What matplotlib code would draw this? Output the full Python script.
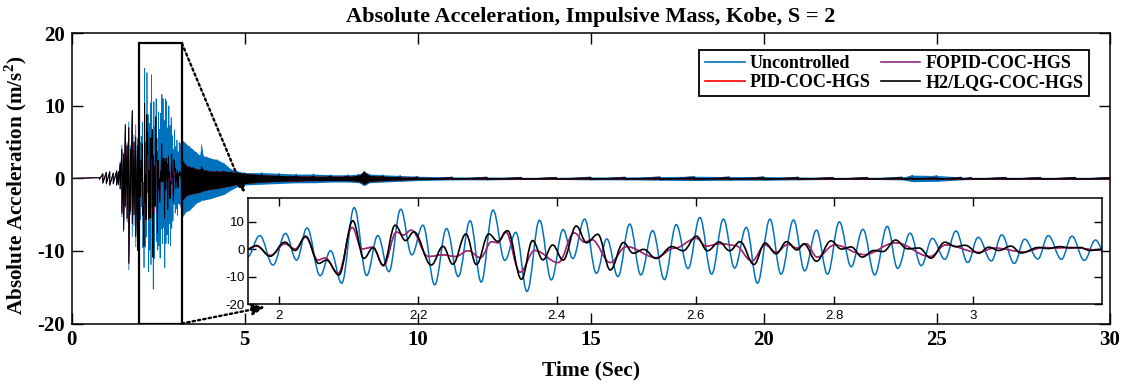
import numpy as np
import matplotlib
matplotlib.use("Agg")
import matplotlib.pyplot as plt
from matplotlib.path import Path
from matplotlib.patches import PathPatch, Rectangle
from matplotlib.lines import Line2D

plt.rcParams['font.family'] = ['Liberation Serif', 'DejaVu Serif']
plt.rcParams['font.weight'] = 'bold'
plt.rcParams['axes.titleweight'] = 'bold'
plt.rcParams['axes.labelweight'] = 'bold'
plt.rcParams['axes.unicode_minus'] = False
plt.rcParams['mathtext.fontset'] = 'custom'
plt.rcParams['mathtext.rm'] = 'Liberation Serif:bold'
plt.rcParams['mathtext.bf'] = 'Liberation Serif:bold'

# ---------------- series names / colours ----------------
series_names = ['Uncontrolled', 'PID-COC-HGS', 'FOPID-COC-HGS', 'H2/LQG-COC-HGS']
series_colors = ['#0072BD', '#FF0000', '#8E2C8C', '#000000']

# ---------------- envelope of the record before the zoom window (s, m/s^2) ----------------
pre_t = [0.0, 0.8, 0.9, 1.0, 1.1, 1.2, 1.3, 1.35, 1.4, 1.45, 1.5, 1.55, 1.6, 1.65, 1.7,
         1.75, 1.8, 1.85, 1.9, 1.95]
uc_hi_pre = [0, 0.1, 0.7, 0.9, 1.0, 0.8, 1.1, 1.0, 2.3, 4.6, 3.5, 7.4, 5.0, 7.8, 4.5,
             9.4, 6.0, 7.4, 5.5, 5.0]
uc_lo_pre = [0, -0.1, -0.7, -0.8, -1.0, -0.8, -1.0, -0.9, -1.5, -5.3, -7.1, -4.0, -6.0, -12.6, -5.0,
             -8.0, -6.5, -9.4, -9.9, -5.7]
fo_hi_pre = [0, 0.1, 0.6, 0.8, 0.9, 0.7, 1.0, 0.9, 2.0, 4.0, 3.3, 7.4, 4.7, 7.0, 4.0,
             9.3, 5.0, 5.7, 4.5, 2.0]
fo_lo_pre = [0, -0.1, -0.6, -0.7, -0.9, -0.7, -0.9, -0.8, -1.4, -4.8, -7.4, -3.8, -5.5, -11.7, -4.5,
             -6.2, -5.0, -8.0, -9.9, -3.0]
h2_hi_pre = [0, 0.1, 0.6, 0.8, 0.9, 0.7, 1.0, 0.9, 2.0, 4.0, 3.3, 7.4, 4.5, 7.0, 4.0,
             9.3, 5.0, 5.7, 4.5, 2.0]
h2_lo_pre = [0, -0.1, -0.6, -0.7, -0.9, -0.7, -0.9, -0.8, -1.4, -4.8, -7.1, -3.8, -5.5, -11.7, -4.5,
             -6.2, -5.0, -8.0, -9.9, -3.0]

# ---------------- envelope of the record after the zoom window ----------------
post_t = [3.2, 3.3, 3.4, 3.5, 3.6, 3.7, 3.75, 3.8, 3.9, 4.0,
          4.2, 4.4, 4.6, 4.8, 5.0, 5.5, 6.0, 6.5, 7.0, 7.5,
          8.0, 8.3, 8.45, 8.6, 9.0, 9.5, 10.0, 11.0, 12.0, 13.0,
          14.0, 15.0, 16.0, 17.0, 18.0, 19.0, 20.0, 21.0, 22.0, 23.0,
          24.0, 24.3, 25.0, 25.7, 26.0, 27.0, 28.0, 29.0, 30.0]
uc_hi_post = [5.3, 4.8, 4.4, 4.0, 3.6, 3.2, 4.6, 3.1, 3.0, 2.8,
              2.6, 2.1, 1.3, 1.0, 0.8, 0.8, 0.7, 0.6, 0.6, 0.5,
              0.5, 0.6, 1.0, 0.6, 0.5, 0.4, 0.3, 0.2, 0.2, 0.15,
              0.15, 0.2, 0.2, 0.25, 0.3, 0.25, 0.25, 0.2, 0.15, 0.15,
              0.2, 0.45, 0.4, 0.2, 0.15, 0.15, 0.15, 0.15, 0.15]
uc_lo_post = [-5.3, -4.6, -4.4, -3.9, -3.4, -3.2, -3.0, -3.0, -2.9, -2.8,
              -2.5, -2.2, -1.6, -1.1, -0.9, -0.8, -0.7, -0.6, -0.6, -0.5,
              -0.5, -0.6, -1.0, -0.6, -0.5, -0.4, -0.3, -0.2, -0.2, -0.15,
              -0.15, -0.2, -0.2, -0.25, -0.3, -0.25, -0.25, -0.2, -0.15, -0.15,
              -0.2, -0.45, -0.4, -0.2, -0.15, -0.15, -0.15, -0.15, -0.15]
h2_hi_post = [2.5, 1.8, 1.6, 1.5, 1.3, 1.2, 1.6, 1.2, 1.1, 1.0,
              1.0, 1.0, 0.9, 0.8, 0.7, 0.5, 0.4, 0.35, 0.3, 0.3,
              0.3, 0.4, 0.9, 0.4, 0.3, 0.2, 0.15, 0.1, 0.1, 0.1,
              0.1, 0.1, 0.1, 0.1, 0.1, 0.1, 0.1, 0.1, 0.1, 0.1,
              0.1, 0.1, 0.1, 0.1, 0.1, 0.1, 0.1, 0.1, 0.1]
h2_lo_post = [-3.0, -2.4, -2.2, -2.1, -2.0, -1.9, -1.8, -1.7, -1.6, -1.5,
              -1.4, -1.2, -1.0, -0.8, -0.7, -0.5, -0.4, -0.35, -0.3, -0.3,
              -0.3, -0.4, -0.8, -0.4, -0.3, -0.2, -0.15, -0.1, -0.1, -0.1,
              -0.1, -0.1, -0.1, -0.1, -0.1, -0.1, -0.1, -0.1, -0.1, -0.1,
              -0.1, -0.1, -0.1, -0.1, -0.1, -0.1, -0.1, -0.1, -0.1]

# ---------------- peaks and troughs inside the zoom window ----------------
uc_peak_t = [1.938, 1.954, 1.972, 1.991, 2.009, 2.025, 2.040, 2.059, 2.074, 2.090,
             2.108, 2.126, 2.142, 2.158, 2.175, 2.191, 2.207, 2.224, 2.241, 2.258,
             2.275, 2.291, 2.308, 2.325, 2.341, 2.357, 2.375, 2.392, 2.409, 2.423,
             2.440, 2.457, 2.472, 2.488, 2.505, 2.521, 2.538, 2.555, 2.572, 2.589,
             2.606, 2.623, 2.640, 2.656, 2.673, 2.689, 2.707, 2.723, 2.741, 2.757,
             2.774, 2.790, 2.807, 2.824, 2.841, 2.858, 2.876, 2.891, 2.909, 2.925,
             2.941, 2.959, 2.975, 2.992, 3.007, 3.026, 3.041, 3.059, 3.074, 3.093,
             3.108, 3.127, 3.142, 3.160, 3.176, 3.193]
uc_peak_a = [3.0, -2.8, 5.0, -5.7, 5.8, -3.9, 7.8, -9.6, -0.5, -12.3,
             15.2, -9.5, 5.0, -8.1, 14.6, -2.0, 8.8, -12.9, 7.6, -9.9,
             10.4, -11.9, 14.3, -4.0, 6.2, -15.3, 10.6, -11.1, 7.2, -3.3,
             11.0, -8.7, 3.8, -9.9, 9.2, -9.3, 6.8, -11.0, 9.0, -7.0,
             11.6, -9.0, 11.0, -6.8, 8.0, -12.3, 11.0, -9.0, 10.7, -7.8,
             7.0, -9.0, 10.0, -6.3, 7.3, -9.3, 8.4, -6.9, 5.9, -5.9,
             4.0, -3.6, 6.7, -4.8, 4.4, -4.2, 5.3, -5.1, 3.7, -3.5,
             5.0, -3.6, 4.8, -4.0, 3.4, -3.5]

h2_peak_t = [1.940, 1.955, 1.967, 1.987, 2.008, 2.023, 2.038, 2.057, 2.068, 2.086,
             2.106, 2.122, 2.135, 2.150, 2.167, 2.182, 2.194, 2.219, 2.236, 2.250,
             2.269, 2.284, 2.302, 2.315, 2.329, 2.349, 2.365, 2.380, 2.394, 2.409,
             2.428, 2.443, 2.459, 2.477, 2.496, 2.510, 2.525, 2.543, 2.566, 2.582,
             2.601, 2.617, 2.634, 2.649, 2.664, 2.684, 2.700, 2.716, 2.731, 2.746,
             2.756, 2.774, 2.795, 2.810, 2.824, 2.840, 2.857, 2.870, 2.888, 2.905,
             2.922, 2.939, 2.959, 2.975, 2.988, 3.008, 3.022, 3.037, 3.054, 3.069,
             3.094, 3.108, 3.125, 3.140, 3.154, 3.168, 3.184]
h2_peak_a = [-0.6, 0.2, 1.4, -2.5, 2.6, -0.4, 4.8, -5.1, -3.9, -9.3,
             10.4, -3.3, 0.6, -5.7, 8.8, 3.2, 6.4, -5.7, 1.1, -5.4,
             5.6, -5.5, 5.6, 2.9, 6.8, -10.9, 3.2, -3.8, 1.6, -3.9,
             8.5, 2.4, 5.5, -7.5, 2.5, -1.4, 0.0, -3.3, 1.0, -0.5,
             4.8, -0.5, 2.7, -0.5, 2.8, -5.5, 2.3, -1.6, 2.8, -0.2,
             2.0, -4.3, 3.1, 0.1, 0.9, -2.8, -0.4, -0.8, 3.4, 0.2,
             0.5, -3.2, 2.6, 1.0, 1.5, -1.4, 0.8, -0.4, 1.2, -1.3,
             0.7, 0.3, 1.0, 0.5, 0.7, -0.4, 0.0]

fo_peak_t = [1.940, 1.955, 1.967, 1.987, 2.008, 2.023, 2.038, 2.056, 2.066, 2.085,
             2.105, 2.119, 2.135, 2.150, 2.169, 2.179, 2.190, 2.215, 2.236, 2.254,
             2.272, 2.290, 2.306, 2.315, 2.326, 2.347, 2.368, 2.402, 2.425, 2.440,
             2.450, 2.477, 2.500, 2.543, 2.569, 2.601, 2.615, 2.636, 2.657, 2.681,
             2.700, 2.716, 2.733, 2.746, 2.759, 2.775, 2.800, 2.843, 2.888, 2.938,
             2.960, 3.008, 3.030, 3.073, 3.102, 3.120, 3.140, 3.184]
fo_peak_a = [-0.5, 0.2, 1.2, -2.2, 2.0, 0.2, 4.4, -3.9, -3.1, -8.7,
             8.0, 0.2, 0.8, -6.0, 6.3, 5.2, 7.0, -2.6, -2.0, -2.6,
             -0.5, -3.0, 2.8, 2.4, 6.4, -8.3, -0.4, -4.8, 6.0, 2.6,
             3.6, -4.8, 1.0, -3.0, 0.4, 4.0, 1.2, 2.1, 1.4, -4.2,
             1.6, -1.0, 1.8, 0.5, 2.1, -2.8, 1.6, -1.9, 2.4, -2.6,
             1.6, -1.1, 0.5, -0.9, 0.7, 0.5, 0.7, -0.3]

# PID trace lies underneath the FOPID / H2 traces
pid_hi_pre, pid_lo_pre = fo_hi_pre, fo_lo_pre
pid_hi_post, pid_lo_post = h2_hi_post, h2_lo_post
pid_peak_t, pid_peak_a = fo_peak_t, fo_peak_a

# zoom window limits
zoom_xlim = (1.955, 3.185)
zoom_ylim = (-20, 18.6)


def wave_path(t, a):
    """Smooth curve through alternating extrema (horizontal tangents at each)."""
    verts = [(t[0], a[0])]
    codes = [Path.MOVETO]
    for i in range(1, len(t)):
        dt = t[i] - t[i - 1]
        verts += [(t[i - 1] + 0.38 * dt, a[i - 1]), (t[i] - 0.38 * dt, a[i]), (t[i], a[i])]
        codes += [Path.CURVE4] * 3
    return Path(verts, codes)


def draw_spikes(axis, t, hi, lo, color, lw, z):
    t = np.asarray(t, float)
    axis.plot(np.repeat(t, 2), np.column_stack([hi, lo]).ravel(), color=color, lw=lw, zorder=z)


def draw_band(axis, t, hi, lo, color, lw, z):
    axis.fill_between(t, lo, hi, color=color, lw=0, zorder=z)
    draw_spikes(axis, t, hi, lo, color, lw, z)


fig = plt.figure(figsize=(11.27, 3.87), dpi=100)
ax = fig.add_axes([71.7 / 1127, 1 - 323.5 / 387, 1038.3 / 1127, 290.2 / 387])

records = [
    (uc_hi_pre, uc_lo_pre, uc_hi_post, uc_lo_post, uc_peak_t, uc_peak_a),
    (pid_hi_pre, pid_lo_pre, pid_hi_post, pid_lo_post, pid_peak_t, pid_peak_a),
    (fo_hi_pre, fo_lo_pre, h2_hi_post, h2_lo_post, fo_peak_t, fo_peak_a),
    (h2_hi_pre, h2_lo_pre, h2_hi_post, h2_lo_post, h2_peak_t, h2_peak_a),
]
main_w = [0.6, 0.35, 0.35, 0.75]

for k, (hp, lp, hq, lq, pt, pa) in enumerate(records):
    col = series_colors[k]
    z = 2 + k
    draw_spikes(ax, pre_t, hp, lp, col, main_w[k], z)
    draw_band(ax, post_t, hq, lq, col, main_w[k], z)
    ax.add_patch(PathPatch(wave_path(pt, pa), fill=False, ec=col, lw=main_w[k] * 0.9, zorder=z))

ax.set_xlim(0, 30)
ax.set_ylim(-20, 20)
ax.set_xticks([0, 5, 10, 15, 20, 25, 30])
ax.set_yticks([-20, -10, 0, 10, 20])
ax.tick_params(direction='in', length=8, width=1.0, top=True, right=True,
               labelsize=15, pad=5)
for s in ax.spines.values():
    s.set_linewidth(1.1)
ax.set_title('Absolute Acceleration, Impulsive Mass, Kobe, S = 2', fontsize=16, pad=8)
ax.set_xlabel('Time (Sec)', fontsize=15.5, labelpad=7)
ax.set_ylabel(r'Absolute Acceleration (m/s$^\mathbf{2}$)', fontsize=15.2)
ax.yaxis.set_label_coords(-0.041, 0.475)

# zoom box on the main axes
ax.add_patch(Rectangle((zoom_xlim[0], zoom_ylim[0]), zoom_xlim[1] - zoom_xlim[0],
                       zoom_ylim[1] - zoom_ylim[0], fill=False, ec='black', lw=1.6, zorder=10))

handles = [Line2D([], [], color=c, lw=1.2) for c in series_colors]
leg = ax.legend(handles, series_names, ncol=2, loc='upper right',
                bbox_to_anchor=(1 - 20.7 / 1038.3, 1 - 16.7 / 290.2), borderaxespad=0,
                fontsize=13, handlelength=2.2, handletextpad=0.3, columnspacing=0.55,
                labelspacing=0.08, borderpad=0.3, fancybox=False, framealpha=1,
                edgecolor='black')
leg.get_frame().set_linewidth(1.3)

# ---------------- inset ----------------
axi = fig.add_axes([248 / 1127, 1 - 304.3 / 387, 853.7 / 1127, 106 / 387])
axi.set_zorder(20)
axi.set_facecolor('white')
inset_w = [1.1, 1.0, 1.0, 1.2]
for k, (hp, lp, hq, lq, pt, pa) in enumerate(records):
    axi.add_patch(PathPatch(wave_path(pt, pa), fill=False, ec=series_colors[k],
                            lw=inset_w[k], zorder=2 + k))
axi.set_xlim(*zoom_xlim)
axi.set_ylim(*zoom_ylim)
inset_xt = [2, 2.2, 2.4, 2.6, 2.8, 3]
inset_yt = [-20, -10, 0, 10]
axi.set_xticks(inset_xt)
axi.set_yticks(inset_yt)
axi.set_xticklabels(['2', '2.2', '2.4', '2.6', '2.8', '3'], fontfamily='Liberation Sans',
                    fontweight='normal', fontsize=9.5)
axi.set_yticklabels(['-20', '-10', '0', '10'], fontfamily='Liberation Sans',
                    fontweight='normal', fontsize=9.5)
axi.tick_params(direction='in', length=6, width=1.0, top=True, right=True)
axi.tick_params(axis='x', pad=4)
axi.tick_params(axis='y', pad=2.5)
for s in axi.spines.values():
    s.set_linewidth(1.1)

# dotted connectors from the zoom box to the inset
arrow_kw = dict(arrowstyle='-|>,head_length=0.7,head_width=0.3', color='black', lw=1.7,
                linestyle=(0, (1.0, 1.3)), mutation_scale=11, shrinkA=0, shrinkB=0)
axi.annotate('', xy=(-0.004, 1.05), xycoords='axes fraction',
             xytext=(zoom_xlim[1], zoom_ylim[1]), textcoords=ax.transData,
             arrowprops=arrow_kw, annotation_clip=False)
axi.annotate('', xy=(0.02, -0.025), xycoords='axes fraction',
             xytext=(zoom_xlim[1], zoom_ylim[0]), textcoords=ax.transData,
             arrowprops=arrow_kw, annotation_clip=False)

fig.savefig('out.png', dpi=100)
